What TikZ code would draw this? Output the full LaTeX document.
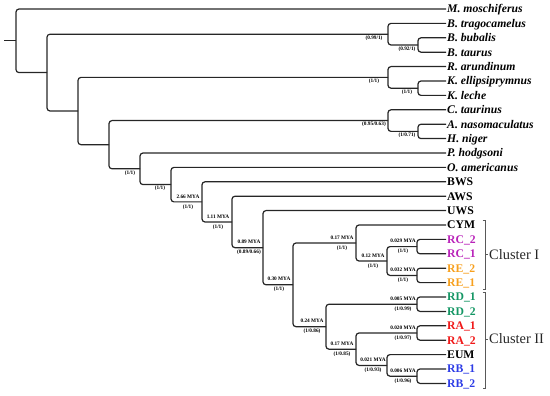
\documentclass[tikz,border=0pt]{standalone}
\usepackage{fontspec}
\setmainfont{Liberation Serif}
\definecolor{rccol}{RGB}{185,35,185}
\definecolor{recol}{RGB}{247,160,30}
\definecolor{rdcol}{RGB}{20,150,100}
\definecolor{racol}{RGB}{240,25,25}
\definecolor{rbcol}{RGB}{45,60,230}
\tikzset{
  br/.style={draw=black!85, line width=1.2pt, rounded corners=3pt},
  sp/.style={anchor=west, inner sep=1pt, font=\fontsize{11.7}{12}\selectfont\bfseries\itshape, text height=7.7pt, text depth=0pt},
  pop/.style={sp, font=\fontsize{11.7}{12}\selectfont\bfseries},
  brlab/.style={anchor=north, inner sep=1.5pt, xshift=-14pt, font=\fontsize{5.3}{6}\selectfont\bfseries},
  agelab/.style={align=center, inner sep=0pt, xshift=-14pt, font=\fontsize{5.3}{10}\selectfont\bfseries},
  brk/.style={draw=black!65, line width=0.8pt},
  clu/.style={anchor=west, inner sep=1pt, text=black!85, font=\fontsize{14.4}{15}\selectfont}
}
\begin{document}
\begin{tikzpicture}[x=1pt, y=-1pt]
  \useasboundingbox (0,0) rectangle (550,396);
  % leaves
  \node[sp] (mmo) at (446,9) {M. moschiferus};
  \node[sp] (btr) at (446,23.4) {B. tragocamelus};
  \node[sp] (bbu) at (446,37.8) {B. bubalis};
  \node[sp] (bta) at (446,52.2) {B. taurus};
  \node[sp] (rar) at (446,66.6) {R. arundinum};
  \node[sp] (kel) at (446,81) {K. ellipsiprymnus};
  \node[sp] (kle) at (446,95.4) {K. leche};
  \node[sp] (cta) at (446,109.8) {C. taurinus};
  \node[sp] (ana) at (446,124.2) {A. nasomaculatus};
  \node[sp] (hni) at (446,138.6) {H. niger};
  \node[sp] (pho) at (446,153) {P. hodgsoni};
  \node[sp] (oam) at (446,167.4) {O. americanus};
  \node[pop] (bws) at (446,181.8) {BWS};
  \node[pop] (aws) at (446,196.2) {AWS};
  \node[pop] (uws) at (446,210.6) {UWS};
  \node[pop] (cym) at (446,225) {CYM};
  \node[pop, text=rccol] (rc2) at (446,239.4) {RC\_2};
  \node[pop, text=rccol] (rc1) at (446,253.8) {RC\_1};
  \node[pop, text=recol] (re2) at (446,268.2) {RE\_2};
  \node[pop, text=recol] (re1) at (446,282.6) {RE\_1};
  \node[pop, text=rdcol] (rd1) at (446,297) {RD\_1};
  \node[pop, text=rdcol] (rd2) at (446,311.4) {RD\_2};
  \node[pop, text=racol] (ra1) at (446,325.8) {RA\_1};
  \node[pop, text=racol] (ra2) at (446,340.2) {RA\_2};
  \node[pop] (eum) at (446,354.6) {EUM};
  \node[pop, text=rbcol] (rb1) at (446,369) {RB\_1};
  \node[pop, text=rbcol] (rb2) at (446,383.4) {RB\_2};
  % inner nodes
  \coordinate (stub) at (4,40.8);
  \coordinate (root) at (16,40.8);
  \coordinate (nA) at (47,72.6);
  \coordinate (nB) at (78,111);
  \coordinate (nC) at (109,144.7);
  \coordinate (nD) at (140,168.8);
  \coordinate (nE) at (171,184.6);
  \coordinate (nF) at (202,201.9);
  \coordinate (nG) at (232,222);
  \coordinate (nH) at (263,247.7);
  \coordinate (nI) at (293,284.8);
  \coordinate (nK) at (356,243);
  \coordinate (nL) at (387,261);
  \coordinate (nRC) at (417,246.6);
  \coordinate (nRE) at (417,275.4);
  \coordinate (nN) at (326,326.7);
  \coordinate (nRD) at (417,304.2);
  \coordinate (nO) at (356,349.2);
  \coordinate (nRA) at (417,333);
  \coordinate (nP) at (387,365.4);
  \coordinate (nRB) at (417,376.2);
  \coordinate (bov) at (388,34.2);
  \coordinate (bbt) at (418,45);
  \coordinate (red) at (388,77.4);
  \coordinate (kk) at (418,88.2);
  \coordinate (hip) at (388,120.6);
  \coordinate (ah) at (418,131.4);
  % branches
  \draw[br] (stub) -- (root);
  \draw[br] (mmo.west) -| (root) |- (nA);
  \draw[br] (bov) -| (nA) |- (nB);
  \draw[br] (btr.west) -| (bov) |- (bbt);
  \draw[br] (bbu.west) -| (bbt) |- (bta.west);
  \draw[br] (red) -| (nB) |- (nC);
  \draw[br] (rar.west) -| (red) |- (kk);
  \draw[br] (kel.west) -| (kk) |- (kle.west);
  \draw[br] (hip) -| (nC) |- (nD);
  \draw[br] (cta.west) -| (hip) |- (ah);
  \draw[br] (ana.west) -| (ah) |- (hni.west);
  \draw[br] (pho.west) -| (nD) |- (nE);
  \draw[br] (oam.west) -| (nE) |- (nF);
  \draw[br] (bws.west) -| (nF) |- (nG);
  \draw[br] (aws.west) -| (nG) |- (nH);
  \draw[br] (uws.west) -| (nH) |- (nI);
  \draw[br] (nK) -| (nI) |- (nN);
  \draw[br] (cym.west) -| (nK) |- (nL);
  \draw[br] (nRC) -| (nL) |- (nRE);
  \draw[br] (rc2.west) -| (nRC) |- (rc1.west);
  \draw[br] (re2.west) -| (nRE) |- (re1.west);
  \draw[br] (nRD) -| (nN) |- (nO);
  \draw[br] (rd1.west) -| (nRD) |- (rd2.west);
  \draw[br] (nRA) -| (nO) |- (nP);
  \draw[br] (ra1.west) -| (nRA) |- (ra2.west);
  \draw[br] (eum.west) -| (nP) |- (nRB);
  \draw[br] (rb1.west) -| (nRB) |- (rb2.west);
  % support values
  \node[brlab] (lbov) at (bov) {(0.99/1)};
  \node[brlab, xshift=3pt] (lbbt) at (bbt) {(0.92/1)};
  \node[brlab] (lred) at (red) {(1/1)};
  \node[brlab, xshift=3pt] (lkk) at (kk) {(1/1)};
  \node[brlab] (lhip) at (hip) {(0.95/0.63)};
  \node[brlab, xshift=3pt] (lah) at (ah) {(1/0.71)};
  \node[brlab, xshift=4pt] (lD) at (nD) {(1/1)};
  \node[brlab, xshift=3pt] (lE) at (nE) {(1/1)};
  % ages
  \node[agelab] (lF) at (nF) {2.66 MYA\\(1/1)};
  \node[agelab] (lG) at (nG) {1.11 MYA\\(1/1)};
  \node[agelab] (lH) at (nH) {0.89 MYA\\(0.89/0.66)};
  \node[agelab] (lI) at (nI) {0.30 MYA\\(1/1)};
  \node[agelab] (lK) at (nK) {0.17 MYA\\(1/1)};
  \node[agelab] (lL) at (nL) {0.12 MYA\\(1/1)};
  \node[agelab] (lRC) at (nRC) {0.029 MYA\\(1/1)};
  \node[agelab] (lRE) at (nRE) {0.032 MYA\\(1/1)};
  \node[agelab] (lN) at (nN) {0.24 MYA\\(1/0.86)};
  \node[agelab] (lRD) at (nRD) {0.005 MYA\\(1/0.99)};
  \node[agelab] (lO) at (nO) {0.17 MYA\\(1/0.85)};
  \node[agelab] (lRA) at (nRA) {0.020 MYA\\(1/0.97)};
  \node[agelab] (lP) at (nP) {0.021 MYA\\(1/0.93)};
  \node[agelab] (lRB) at (nRB) {0.006 MYA\\(1/0.96)};
  % clusters
  \coordinate (c1t) at (485,220);
  \coordinate (c1m) at (485,254.5);
  \coordinate (c1b) at (485,289);
  \coordinate (c2t) at (485,292);
  \coordinate (c2m) at (485,339);
  \coordinate (c2b) at (485,388);
  \node[clu] (cl1) at (488,254.5) {Cluster I};
  \node[clu] (cl2) at (488,339) {Cluster II};
  \draw[brk] ([xshift=-2.5pt]c1t) -- (c1t) -- (c1b) -- ([xshift=-2.5pt]c1b);
  \draw[brk] (c1m) -- (cl1.west);
  \draw[brk] ([xshift=-2.5pt]c2t) -- (c2t) -- (c2b) -- ([xshift=-2.5pt]c2b);
  \draw[brk] (c2m) -- (cl2.west);
\end{tikzpicture}
\end{document}
